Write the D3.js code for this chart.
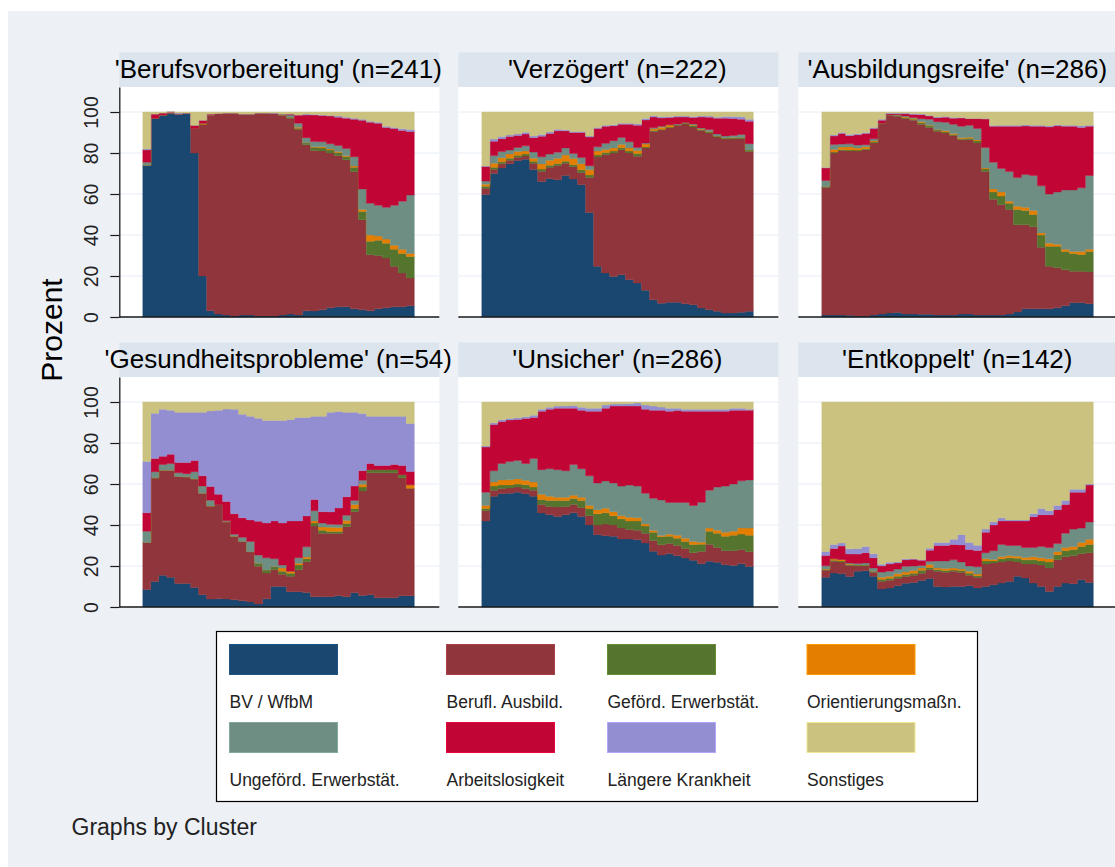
<!DOCTYPE html>
<html>
<head>
<meta charset="utf-8">
<script src="https://cdn.jsdelivr.net/npm/d3@7"></script>
<style>
  html, body { margin: 0; padding: 0; background: #fff; }
  svg { display: block; font-family: "Liberation Sans", Arial, sans-serif; }
</style>
</head>
<body>
<svg id="chart" width="1115" height="867"></svg>
<script>
// states, in stacking order (bottom to top)
const states = [
  "BV / WfbM", "Berufl. Ausbild.", "Geförd. Erwerbstät.", "Orientierungsmaßn.",
  "Ungeförd. Erwerbstät.", "Arbeitslosigkeit", "Längere Krankheit", "Sonstiges"
];
const clusters = ["'Berufsvorbereitung'", "'Verzögert'", "'Ausbildungsreife'",
  "'Gesundheitsprobleme'", "'Unsicher'", "'Entkoppelt'"];
const clusterN = [241, 222, 286, 54, 286, 142];
const yTicks = [0, 20, 40, 60, 80, 100];

// share (%) per state, 34 time steps each
const berufsvorbereitung = [
  [74,97,98.5,99.5,99,99.5,80,20,3,1.5,1,0.5,1,1,0.5,0.5,0.5,1,1.5,1,3,3,3.5,4.5,5,5,4,3.5,3,4,4.5,5,5,5.5],
  [0,0,0,0,0,0,12,74,95.5,97.8,98.5,99,98,98,99,99,98.8,97.5,95,91.5,81,78.6,77.5,75.5,73.7,71.7,67,44,27.4,26,24.3,19.7,16.5,13.5],
  [0,0,0,0,0,0,0,0,0,0,0,0,0,0,0,0,0,0,0.5,0.5,1,1.5,1.5,1.5,1.5,1.5,2,4,6.6,7.5,7.2,8.3,9.5,10.5],
  [0,0,0,0,0,0,0,0.5,0,0,0,0,0,0,0,0,0,0,0,0.5,0,0.3,0.5,0.5,0.5,0.5,0.7,1,3,2,2,2,2,1.5],
  [1.5,0,0,0,0,0,0,0,0,0,0,0,0,0,0,0,0,0.5,1,2,2.5,2.5,2.5,2.5,3,3.5,4.5,10,15.5,15,15.5,19.5,23.5,28.5],
  [6,2,1,0.5,0,0,1.5,1.5,0.5,0,0,0,0,0,0,0,0,0,0.5,4,11,13,12.8,13.5,13.8,14.8,18.3,33.5,39.5,40,39,37.5,34.5,31],
  [0.5,0,0,0,0.5,0,0,0,0,0,0,0,0,0,0,0,0.2,0,0,0,0.5,0.3,0.3,0.3,0.5,0.5,0.5,0.5,0.5,0.5,0.5,0.5,0.8,1],
  [18,1,0.5,0,0.5,0.5,6.5,4,1,0.7,0.5,0.5,1,1,0.5,0.5,0.5,1,1,1.5,1,1.2,1.4,1.7,2,2.5,3,3.5,4.5,5,7,7.5,8.2,8.5]
];
const verzoegert = [
  [59,70.2,72.7,74.8,76.4,77,72,66,67.5,67.3,69,67.3,64.5,51,24.7,21.5,19.8,20.6,18.2,16.6,13.5,8.5,6.8,7.2,7.2,6.5,6,4.4,3.6,2.8,2,2,2.3,2.8],
  [3,2,2,1.7,1.5,1.5,3,5,5.5,7,6,6,6,17,53.3,57.7,60.2,61,61.8,61.8,71.4,82.9,85.4,85.8,86.6,88.1,86.7,87,86.2,85,84.8,84.8,85,78],
  [1,1,1,1,1,1,1,1,1,1,1,1,1.3,1.3,1,1,1,1,1,1.3,0.5,0.5,0.4,0.3,0.3,0.5,0.7,0.5,0.5,0.5,0.5,0.5,0.5,0.8],
  [1,2,2,2,1.8,1.5,1.5,2.5,2.5,2.5,3,3,3,2.5,2,1.5,1.5,1.5,1.5,1.5,1.5,0.8,1,1,0,0,0.3,0.3,0.3,0,0,0.3,0,0],
  [1.5,3.7,3,2,2,2.5,3,3.5,3,3,3.5,2.5,3,2,2,3,3.5,3.5,3,1.5,0.5,0.5,0.5,0.2,0.3,0.3,0.5,0.5,1,1,1,1,1.5,3],
  [7,7,6.3,6.5,5.8,5.8,7,10,10,10.5,8.3,10.2,12.2,14,9,8.3,7.3,6.4,8.5,10.8,11.6,5.3,4,3.5,3.4,2.6,3.1,5.3,6,7.7,8.7,8.2,7.5,11],
  [0.3,1.1,1,0.8,0.8,0.8,0.8,0.8,0.8,0.7,0.5,0.5,0.5,0.5,0.5,0.5,0.5,0.5,0.5,0.7,0.8,0.7,0.7,0.5,0.5,0.5,0.5,0.5,0.5,0.5,0.8,1,1.2,1],
  [26,13.2,12,11.2,10.7,9.9,11.7,11,9.7,8.5,8.7,9.5,9.5,11.7,7.5,6.5,6.2,5.5,5.5,5.8,3.2,1.8,2.3,2.2,2,2,2.2,2,2,2.5,2.2,2.2,2.3,3.5]
];
const ausbildungsreife = [
  [1,1,1,0.8,0.5,0.5,1,1.5,2,2.2,1.5,1.5,1.3,1.3,1,1,1,1.5,1.5,1,1,1,1,1.5,2.5,4,4,4,4,4.5,5.5,7,7,6.5],
  [62,79,80.6,80,81,81.5,83.9,92.5,96.7,96,95.6,94.5,93,91.4,90.4,88.8,87.5,85.8,85,83.9,70,56.5,53.8,50.9,42.5,41,40,30,20.7,19.5,17.5,15.3,15.3,15.5],
  [0.5,0.5,0.5,0.5,0.5,0.5,0.5,0.3,0.3,0.5,0.5,0.5,0.8,0.8,0.5,0.5,0.5,0.5,0.7,1,1.2,3.5,4.2,3,7.5,7,6,6,9.8,10.5,9,8.7,8.2,10],
  [0,1.2,1.2,1.5,1,1,0.5,0,0,0,0.3,0.3,0.5,0.3,0.3,0.5,0.5,0.5,0.5,0.5,0.5,1.5,2,1,1.5,1.5,2,1,1.5,1,1,1,1.5,1],
  [3,2.5,1.5,1.5,1.5,1,1,0,0,0.3,0.5,0.5,1.5,3,3.8,4.2,4.5,5.7,5.8,5.6,10,13,11.5,14.5,14,16,17,23,24,25.5,29,30,31,36],
  [6,4.1,5.2,4,5,5.5,5.1,1.5,0.5,0.5,1,1.5,2,1.5,2,2.5,3,4,3.3,4.8,14,17.5,20.5,22,25,23.7,24,29,32.7,32.3,31,31,29.5,24],
  [0.3,0.5,0.5,0.5,0.5,0.5,0.5,0.5,0.3,0.3,0.4,0.5,0.3,0.3,0.3,0.3,0.3,0.3,0,0,0,0.4,0.5,0.5,0.5,0.5,0.5,0.5,0.5,0.5,0.5,0.5,0.8,0.5],
  [27,11.2,10,11,10.7,10,7.5,3.5,0.5,0.5,0.5,0.7,1,1.7,2.5,2.2,2.7,2.7,3.2,3.2,3.3,6.6,6.5,6.5,6.5,6.3,6.5,6.5,6.8,6.2,6.5,6.5,6.7,6.5]
];
const gesundheit = [
  [8.5,12.5,15.5,14.5,11.5,11.5,9.5,6,4,4,4,3.5,3,2.5,1.5,4,10,10,7.5,7.5,7,5,5,5,5.5,5,7,6,6,4.5,4.5,4.5,5.5,5.5],
  [23,50.5,51.2,52.2,52.2,52,53,49.6,46.7,46,38,31,29,24.5,18.5,12.6,8.2,6,7.5,10.7,15,34.5,31,30.8,30.5,34,39.5,54,59.4,61,61,61,57.5,52.5],
  [0,0,0,0,0,0,0,0,0,0,0,0,0,0,1.5,1.5,1.5,1.5,1.5,2.3,1.5,1.5,1.5,1,1,1.5,1.5,2,1.5,1.5,1.5,1.5,1.5,0],
  [0,0,0,0,0,0,0,0,0,0,0,0,0,0,0,0,0,1.5,1,0.8,0.8,1,1.5,2,2,1.5,2,1.5,0,0,0,0,0,1.7],
  [5.5,3,2.8,3.3,1.8,1.5,3.5,3.5,3,0,0.5,1,2,5,4,5.9,3.8,1.5,0,2.7,5,5,2,1.5,1.5,2.5,2,2,0,0,0,0,0,0],
  [9,6.5,4,4.5,5,5.5,5.5,5,6.8,5,9.5,10,9.5,10.5,16.5,17,18.5,20.5,24.5,18,15,5.5,5.5,6,8,9,7,5,3,2,2,2.5,4.5,6.5],
  [25,22,23,21.5,24.5,24.5,23.5,31,38,41,45.5,51,50.5,50.5,50.5,50,49,50,49.5,50.5,48,40.5,46.5,48.5,47.3,41,36,29.5,23,24,24,23.5,24,23.5],
  [29,5.5,3.5,4,5,5,5,5,4.5,4,3.5,3.5,6,7,8,9,9,9,8.5,7.5,7.5,7,7,5,4.7,5,5,6,7,7,7,7,7,10.5]
];
const unsicher = [
  [42,54,55.3,55.6,56,55.3,54,45.9,45,44.2,45,45.9,44.2,40,35.3,34.8,34.5,33.2,33.2,32.8,31.2,27.2,25.5,26,25,23.9,22.8,21.1,22.3,21.8,20.6,20.3,21.1,19.8],
  [5,3,2.5,2.5,2.5,2.5,3,4.1,4,4.6,4,4,4.3,4.5,4.7,5.7,5.5,5.3,4.6,4.7,4.8,5.3,5,5,5,4.6,3.7,6,8.2,7.2,6.9,7.2,7,7.2],
  [1,2,1.7,1.5,1.5,1.8,1.5,2.5,3,3.2,3,3,3.5,3.5,5.5,5.5,4.5,4.5,4.2,4.5,3.5,4,4,3.5,3.5,3.5,4,3.5,6.5,7,7,7.5,7.5,8],
  [1.5,2,2.5,2.5,2.5,2.2,2.5,2.5,2,1.5,1.5,1.5,1.5,1.5,2,2.2,2,1.5,1.8,1.5,1,0.8,0.5,1,1.5,1.5,1.5,1,1.5,1.5,2,2,3,3.5],
  [6.5,5.5,8,9,9,8.2,11.5,12,13.5,13.5,13,15,14,14.5,13,13.3,14,14.5,15.7,15.5,15,15.7,17.5,15.5,16,17.5,17.5,19.5,18.5,21,22.5,23,23,23.5],
  [22,22.5,20.5,20.2,20,22,20,28.5,29,30,30.5,27.5,28.5,31.5,35,35.5,37.5,39,38.5,39,41,43,44,44.5,44.8,44.5,46,44.5,38.5,37,36.5,36,34.5,34],
  [0.5,0.8,0.8,0.8,0.8,0.8,1,1,1,1,1,1.3,1.5,1.5,1.5,1.5,1,1,1.2,1.5,2,2,1.5,1.5,1.2,1,1,1,1,1,1,1,1,0.5],
  [21.5,10.2,8.7,8,7.7,7.2,6.5,3.5,2.5,2,2,1.7,2.5,3,3,1.5,1,1,0.8,0.5,1.5,2,2.5,3,3,3.5,3.5,3.5,3.5,3.5,3.5,3,3,3.5]
];
const entkoppelt = [
  [14.5,16.6,16.3,15,17.4,17.7,15,8.8,9.3,10.4,11.7,12,13,14,10,9.8,10,10,10.4,9.3,10,10.9,11.7,12.5,15,14.2,11.7,10,7.6,10,11.7,11.4,13.3,12],
  [3.5,5.7,5.7,5.3,2.6,2.3,2,3.7,3.7,3.6,3.3,3.5,3.5,4.5,7.5,7.2,7.5,7,5.1,5.2,11,10.6,10.3,10,7,6.8,9.3,10.5,11.4,13,12.8,13.6,12.7,14.5],
  [0.3,0.5,0.5,0.5,0.5,0.5,0.5,1,1,1,1,1,1.5,1,0.8,0.8,0.5,0.8,1,0.8,1.5,1,1.5,1.5,1.8,2,2,2,3,2.5,3,3,3.5,4],
  [0.3,0.7,0.8,0.3,0,0,0,1,1,1.2,1.2,1.3,1,1.5,0.7,1,1,0.7,1,0.8,1,0.7,1,1,1,1.2,1.5,1.5,1.5,1.5,1.5,1.5,2,2.5],
  [1.5,0,0,0.5,0.7,1,1.5,2.5,2.5,2.3,2.8,2.2,1.3,1.5,3.5,3.7,4,3.5,2.5,3.5,3,4.3,6,5,5.2,4.8,4.5,5.5,5.5,4,7,8.5,7,8.5],
  [5,5,6.5,4.4,4.6,5,5,3,3.5,3,3.2,3.3,2.5,5.5,7.5,7.5,7.5,8.3,8,8,10,12.5,11.5,12,12,13,15,15.5,16,16.5,14,18,17.5,18],
  [2,2,1.5,2.5,2.7,3,2,0.8,0.8,0.5,0.5,0.3,0.3,1,1.5,1.5,2.5,5,3.5,2.5,1.5,1.5,1.5,0.5,0.5,0.5,1.5,3,2,2,2,1.5,1.5,0.5],
  [73,69.5,69,72,71.5,70.5,74,79,78.2,78,77,76.5,77,72,68.5,68.5,67,64.7,68.5,70,62,58.5,56.5,57.5,57.5,57.5,54.5,52,53,50.5,48,42.5,42.5,40]
];

const panels = [berufsvorbereitung, verzoegert, ausbildungsreife, gesundheit, unsicher, entkoppelt];

// Stata s2color palette
const colors = ["#1A476F", "#90353B", "#55752F", "#E37E00",
                "#6E8E84", "#C10534", "#938DD2", "#CAC27E"];

const COL_X = [119.3, 458.3, 798.3];
const ROW_Y = [52.5, 342.5];
const PW = 320, STRIP = 34.5, PH = 230;
const INK = "#1a1a1a";

const svg = d3.select("#chart");

svg.append("rect")
  .attr("x", 8).attr("y", 11)
  .attr("width", 1107).attr("height", 856)
  .attr("fill", "#EDF1F6");

panels.forEach((series, p) => {
  const col = p % 3, row = Math.floor(p / 3);
  const left = COL_X[col], top = ROW_Y[row];
  const plotTop = top + STRIP, bottom = plotTop + PH;
  const n = series[0].length;
  const g = svg.append("g");

  /* title strip */
  g.append("rect")
    .attr("x", left).attr("y", top)
    .attr("width", PW).attr("height", STRIP)
    .attr("fill", "#DCE4ED");
  g.append("text")
    .attr("x", left + PW / 2 - 1).attr("y", top + 25)
    .attr("text-anchor", "middle")
    .attr("font-size", 26).attr("fill", "#000")
    .text(`${clusters[p]} (n=${clusterN[p]})`);

  /* plot region */
  g.append("rect")
    .attr("x", left).attr("y", plotTop)
    .attr("width", PW).attr("height", PH)
    .attr("fill", "#fff");

  const x = d3.scaleLinear().domain([0, n]).range([left + 23.5, left + 295]);
  const y = d3.scaleLinear().domain([0, 112.2]).range([bottom, plotTop]);

  g.append("g")
    .selectAll("line")
    .data(yTicks)
    .join("line")
    .attr("x1", left).attr("x2", left + PW)
    .attr("y1", (d) => y(d)).attr("y2", (d) => y(d))
    .attr("stroke", "#E6EDF5").attr("stroke-width", 1);

  // one row per time step, plus a closing step for the last column
  const rows = d3.range(n + 1).map((i) => {
    const k = Math.min(i, n - 1);
    return { t: i, v: series.map((s) => s[k]) };
  });

  const stacked = d3.stack()
    .keys(d3.range(states.length))
    .value((d, key) => d.v[key])
    .offset(d3.stackOffsetExpand)(rows);

  const area = d3.area()
    .curve(d3.curveStepAfter)
    .x((d) => x(d.data.t))
    .y0((d) => y(d[0] * 100))
    .y1((d) => y(d[1] * 100));

  g.append("g")
    .selectAll("path")
    .data(stacked)
    .join("path")
    .attr("fill", (d) => colors[d.key])
    .attr("stroke", (d) => colors[d.key])
    .attr("stroke-width", 0.4)
    .attr("d", area);

  /* x baseline */
  g.append("line")
    .attr("x1", left).attr("x2", left + PW)
    .attr("y1", bottom).attr("y2", bottom)
    .attr("stroke", INK).attr("stroke-width", 1.3);

  /* y axis on the left column only */
  if (col === 0) {
    const ax = g.append("g")
      .attr("transform", `translate(${left},0)`)
      .call(d3.axisLeft(y).tickValues(yTicks).tickSize(9).tickSizeOuter(0));
    ax.select(".domain").attr("stroke", INK).attr("stroke-width", 1.3);
    ax.selectAll(".tick line").attr("stroke", INK).attr("stroke-width", 1.2);
    ax.selectAll(".tick text")
      .attr("x", null).attr("dy", null)
      .attr("text-anchor", "middle")
      .attr("transform", "translate(-21,0) rotate(-90)")
      .attr("font-family", "Liberation Sans, Arial, sans-serif")
      .attr("font-size", 19.5).attr("fill", "#222");
  }
});

/* y title */
svg.append("text")
  .attr("transform", "translate(61.5,330) rotate(-90)")
  .attr("text-anchor", "middle")
  .attr("font-size", 30).attr("fill", "#000")
  .text("Prozent");

/* legend */
const legend = svg.append("g");
legend.append("rect")
  .attr("x", 216.5).attr("y", 631.5)
  .attr("width", 761).attr("height", 170)
  .attr("fill", "#fff").attr("stroke", "#000").attr("stroke-width", 1.2);

const legX = [229.5, 446.5, 607.5, 807];
const legY = [644.5, 722.5];

const item = legend.selectAll("g.item")
  .data(states)
  .join("g")
  .attr("class", "item")
  .attr("transform", (d, i) => `translate(${legX[i % 4]},${legY[Math.floor(i / 4)]})`);

item.append("rect")
  .attr("width", 108).attr("height", 30)
  .attr("fill", (d, i) => colors[i])
  .attr("stroke", (d, i) => d3.color(colors[i]).brighter(0.5))
  .attr("stroke-width", 1);

item.append("text")
  .attr("x", 0).attr("y", 63)
  .attr("font-size", 17.5).attr("fill", "#222")
  .text((d) => d);

svg.append("text")
  .attr("x", 71.5).attr("y", 835)
  .attr("font-size", 23).attr("fill", "#222")
  .text("Graphs by Cluster");
</script>
</body>
</html>
